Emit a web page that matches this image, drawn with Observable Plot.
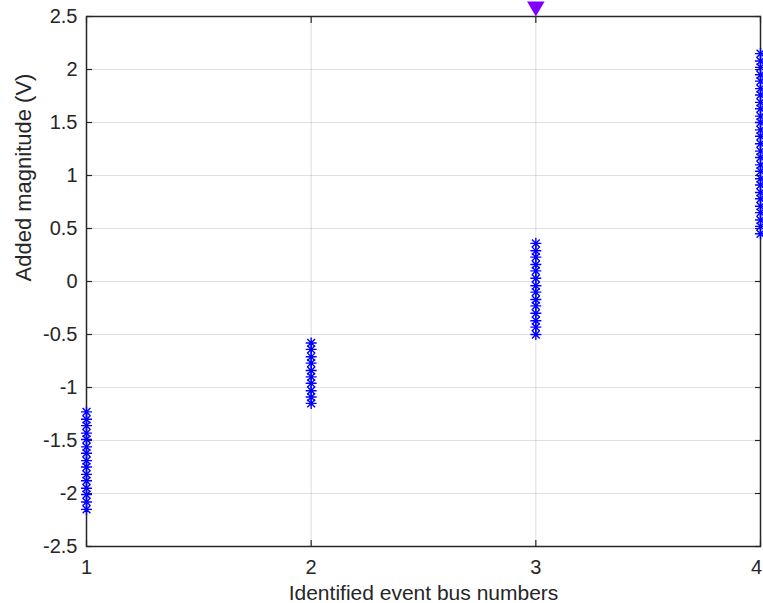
<!DOCTYPE html>
<html>
<head>
<meta charset="utf-8">
<script src="https://cdn.jsdelivr.net/npm/d3@7"></script>
<script src="https://cdn.jsdelivr.net/npm/@observablehq/plot@0.6"></script>
<style>
  html, body { margin: 0; padding: 0; background: #fff; overflow: hidden; }
</style>
</head>
<body>
<div id="chart"></div>
<script>
// ---- data ----
const bus1 = [-1.23, -1.30, -1.36, -1.43, -1.49, -1.56, -1.62, -1.69, -1.75, -1.82, -1.88, -1.95, -2.01, -2.08, -2.15];
const bus2 = [-0.58, -0.64, -0.71, -0.77, -0.84, -0.90, -0.96, -1.03, -1.09, -1.15];
const bus3 = [0.36, 0.29, 0.23, 0.16, 0.10, 0.03, -0.04, -0.10, -0.17, -0.23, -0.30, -0.37, -0.43, -0.50];
const bus4 = [0.45, 0.52, 0.58, 0.65, 0.71, 0.78, 0.84, 0.91, 0.97, 1.04, 1.10, 1.17, 1.23, 1.30, 1.37, 1.43,
              1.50, 1.56, 1.63, 1.69, 1.76, 1.82, 1.89, 1.95, 2.02, 2.08, 2.15];
const busNumbers = [1, 2, 3, 4];
const markerBus = [3];
const markerValue = [2.5];
const xTicks = [1, 2, 3, 4];
const yTicks = [-2.5, -2, -1.5, -1, -0.5, 0, 0.5, 1, 1.5, 2, 2.5];
const yTickLabels = ["-2.5", "-2", "-1.5", "-1", "-0.5", "0", "0.5", "1", "1.5", "2", "2.5"];
const xLabel = "Identified event bus numbers";
const yLabel = "Added magnitude (V)";

// table built from the arrays
const series = [bus1, bus2, bus3, bus4];
const points = series.flatMap((vals, i) => vals.map(v => ({bus: busNumbers[i], value: v})));
const marker = markerBus.map((b, i) => ({bus: b, value: markerValue[i]}));

// MATLAB-like '*' marker (4 crossing lines)
const asterisk = {
  draw(ctx, size) {
    const r = Math.sqrt(size / Math.PI);
    const d = r * Math.SQRT1_2;
    ctx.moveTo(-r, 0); ctx.lineTo(r, 0);
    ctx.moveTo(0, -r); ctx.lineTo(0, r);
    ctx.moveTo(-d, -d); ctx.lineTo(d, d);
    ctx.moveTo(-d, d); ctx.lineTo(d, -d);
  }
};

const axisColor = "#262626";
const tickFmt = d => yTickLabels[yTicks.indexOf(d)];
const innerX = xTicks.slice(0, -1);
const lastX = xTicks.slice(-1);

const chart = Plot.plot({
  width: 763,
  height: 603,
  marginLeft: 86,
  marginRight: 3,
  marginTop: 16,
  marginBottom: 57,
  style: {fontFamily: "'Liberation Sans', Arial, sans-serif", fontSize: "20px", color: axisColor, background: "#fff"},
  x: {domain: [1, 4]},
  y: {domain: [-2.5, 2.5]},
  marks: [
    Plot.gridY(yTicks, {stroke: axisColor, strokeOpacity: 0.15}),
    Plot.gridX(xTicks, {stroke: axisColor, strokeOpacity: 0.15}),
    // labels
    Plot.axisY(yTicks, {anchor: "left", tickSize: 0, tickPadding: 9, tickFormat: tickFmt, label: null, fontSize: 20}),
    Plot.axisX(innerX, {anchor: "bottom", tickSize: 0, tickPadding: 13, tickFormat: d => String(d), label: null, fontSize: 20}),
    Plot.axisX(lastX, {anchor: "bottom", tickSize: 0, tickPadding: 13, dx: -4, tickFormat: d => String(d), label: null, fontSize: 20}),
    // inward ticks on all sides
    Plot.axisY(yTicks, {anchor: "left", tickSize: 6, dx: 6, tickFormat: () => "", label: null, stroke: axisColor, strokeWidth: 1.2}),
    Plot.axisY(yTicks, {anchor: "right", tickSize: 6, dx: -6, tickFormat: () => "", label: null, stroke: axisColor, strokeWidth: 1.2}),
    Plot.axisX(xTicks, {anchor: "bottom", tickSize: 6, dy: -6, tickFormat: () => "", label: null, stroke: axisColor, strokeWidth: 1.2}),
    Plot.axisX(xTicks, {anchor: "top", tickSize: 6, dy: 6, tickFormat: () => "", label: null, stroke: axisColor, strokeWidth: 1.2}),
    Plot.frame({stroke: axisColor, strokeWidth: 1.5}),
    // data
    Plot.dot(points, {x: "bus", y: "value", symbol: asterisk, r: 5.5, fill: "none", stroke: "#0000ff", strokeWidth: 1.4}),
    Plot.dot(marker, {x: "bus", y: "value", symbol: "triangle", rotate: 180, r: 6.5, dy: -10, fill: "#8000ff", stroke: "none"}),
    // axis titles
    Plot.text([yLabel], {frameAnchor: "left", rotate: -90, dx: -63, fontSize: 22, fill: axisColor}),
    Plot.text([xLabel], {frameAnchor: "bottom", dy: 53, fontSize: 21, fill: axisColor})
  ]
});
document.getElementById("chart").appendChild(chart);
</script>
</body>
</html>
